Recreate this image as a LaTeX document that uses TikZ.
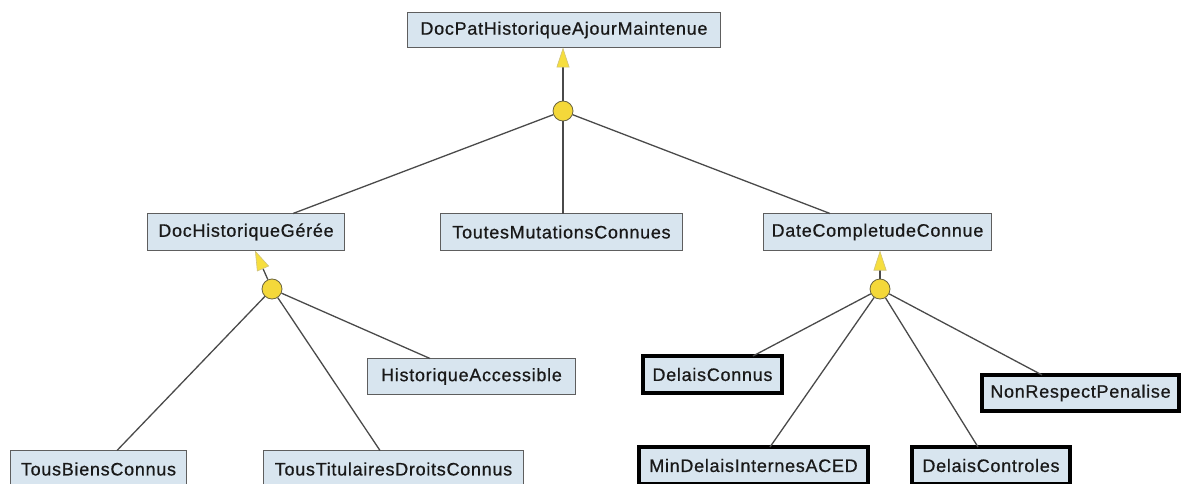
\documentclass[tikz,border=0pt]{standalone}
\usepackage{fontspec}
\setmainfont{Liberation Sans}[LetterSpace=4.0,FakeBold=0.7]
\usetikzlibrary{arrows.meta}
\definecolor{boxfill}{HTML}{D8E5EF}
\definecolor{boxedge}{HTML}{5E5E5E}
\definecolor{wirecol}{HTML}{4A4A4A}
\definecolor{jointfill}{HTML}{F4D83A}
\definecolor{jointedge}{HTML}{6A6440}
\definecolor{tipfill}{HTML}{F6DE3E}
\definecolor{tipedge}{HTML}{CFC27A}
\begin{document}
\begin{tikzpicture}[x=1pt,y=-1pt,
  label text/.style={font=\fontsize{18}{21}\selectfont, text=black!90},
  goal/.style={label text, draw=boxedge, line width=1.2pt, fill=boxfill,
    inner sep=0pt, outer sep=0pt},
  leafgoal/.style={label text, draw=black, line width=4pt, fill=boxfill,
    inner sep=0pt, outer sep=0pt},
  joint/.style={circle, draw=jointedge, fill=jointfill, line width=0.8pt,
    minimum size=20pt, inner sep=0pt},
  wire/.style={draw=wirecol, line width=1.3pt},
  refine/.style={wire, -{Triangle[length=20pt,width=13pt,fill=tipfill,color=tipedge,line width=0.6pt]}}]
\useasboundingbox (0,0) rectangle (1183,484);

% goals (thin frame)
\node[goal, minimum width=313pt, minimum height=35pt] (top) at (564,30) {DocPatHistoriqueAjourMaintenue};
\node[goal, minimum width=197pt, minimum height=37pt] (dhg) at (246,232) {DocHistoriqueGérée};
\node[goal, minimum width=242pt, minimum height=37pt] (tmc) at (561.5,232) {ToutesMutationsConnues};
\node[goal, minimum width=228pt, minimum height=37pt] (dcc) at (877.5,232) {DateCompletudeConnue};
\node[goal, minimum width=208pt, minimum height=36pt] (ha) at (471.5,376.5) {HistoriqueAccessible};
\node[goal, minimum width=176pt, minimum height=37pt] (tbc) at (98.5,469) {TousBiensConnus};
\node[goal, minimum width=260pt, minimum height=37pt] (ttd) at (393.5,469) {TousTitulairesDroitsConnus};

% leaf goals (thick frame)
\node[leafgoal, minimum width=139pt, minimum height=37pt] (dc) at (712.5,374.5) {DelaisConnus};
\node[leafgoal, minimum width=197pt, minimum height=36pt] (nrp) at (1080.5,393) {NonRespectPenalise};
\node[leafgoal, minimum width=229pt, minimum height=37pt] (mdi) at (753.5,465.5) {MinDelaisInternesACED};
\node[leafgoal, minimum width=158pt, minimum height=37pt] (dctl) at (991,465.5) {DelaisControles};

% refinement junctions
\node[joint] (j0) at (563,111) {};
\node[joint] (j1) at (272,289) {};
\node[joint] (j2) at (880,289) {};

% junction 0
\draw[refine] (j0) -- ([xshift=-1pt]top.south);
\draw[wire] (j0) -- ([xshift=47pt]dhg.north);
\draw[wire] (j0) -- ([xshift=1.5pt]tmc.north);
\draw[wire] (j0) -- ([xshift=-47.5pt]dcc.north);

% junction 1
\draw[refine] (j1) -- ([xshift=9pt]dhg.south);
\draw[wire] (j1) -- ([xshift=18.5pt]tbc.north);
\draw[wire] (j1) -- ([xshift=-13.5pt]ttd.north);
\draw[wire] (j1) -- ([xshift=-41.5pt]ha.north);

% junction 2
\draw[refine] (j2) -- ([xshift=2.5pt]dcc.south);
\draw[wire] (j2) -- ([xshift=40.5pt]dc.north);
\draw[wire] (j2) -- ([xshift=16.5pt]mdi.north);
\draw[wire] (j2) -- ([xshift=-13pt]dctl.north);
\draw[wire] (j2) -- ([xshift=-38.5pt]nrp.north);
\end{tikzpicture}
\end{document}
